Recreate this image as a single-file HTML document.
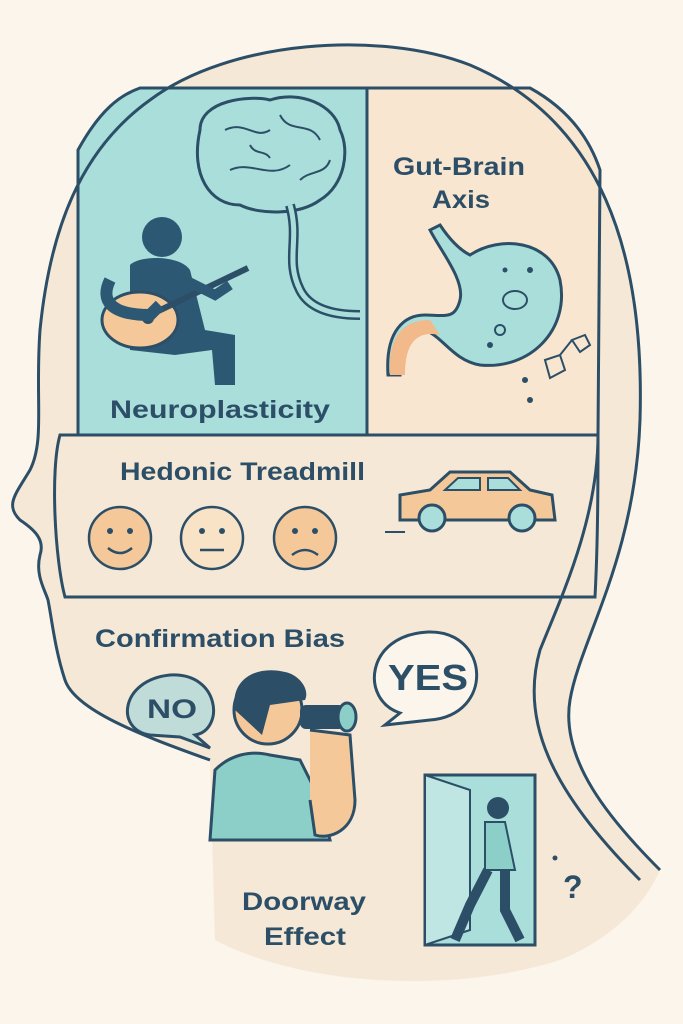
<!DOCTYPE html>
<html><head><meta charset="utf-8"><style>
html,body{margin:0;padding:0;background:#fbf5ec;}
svg{display:block;}
text{font-family:"Liberation Sans",sans-serif;fill:#2c4f67;font-weight:bold;}
</style></head><body>
<svg width="683" height="1024" viewBox="0 0 683 1024" xmlns="http://www.w3.org/2000/svg">
<defs>
<clipPath id="head">
<path d="M660,870 C610,820 560,760 570,700 C580,640 635,560 640,420 C645,250 600,120 470,65 C380,30 230,40 150,100 C80,150 50,230 40,330 C35,400 45,440 30,470 C15,495 5,505 20,520 C35,530 45,540 40,555 C35,575 45,590 48,600 C52,620 55,650 65,680 C75,710 140,735 210,760 L215,940 C300,985 450,995 560,960 C610,940 645,905 660,870 Z"/>
</clipPath>
</defs>
<rect width="683" height="1024" fill="#fbf5ec"/>
<g clip-path="url(#head)">
<rect width="683" height="1024" fill="#f6e8d6"/>
</g>
<!-- panels -->
<path d="M78,435 L78,150 C100,110 120,95 140,88 L367,88 L367,435 Z" fill="#a9dedb" stroke="#2c4f67" stroke-width="3"/>
<path d="M367,88 L530,88 C570,110 590,140 600,170 L598,435 L367,435 Z" fill="#f8e6d0" stroke="#2c4f67" stroke-width="3"/>
<path d="M60,435 L598,435 C598,480 598,540 595,597 L65,597 C55,560 50,470 60,435 Z" fill="#f6e8d6" stroke="#2c4f67" stroke-width="3"/>
<!-- head outlines -->
<path d="M660,870 C610,820 560,760 570,700 C580,640 635,560 640,420 C645,250 600,120 470,65 C380,30 230,40 150,100 C80,150 50,230 40,330 C35,400 45,440 30,470 C15,495 5,505 20,520 C35,530 45,540 40,555 C35,575 45,590 48,600 C52,620 55,650 65,680 C75,710 140,735 210,760" fill="none" stroke="#2c4f67" stroke-width="3"/>
<path d="M598,435 C598,520 560,600 540,650 C520,720 550,790 640,880" fill="none" stroke="#2c4f67" stroke-width="3"/>
<!-- brain -->
<path d="M200,130 C200,100 250,95 270,100 C300,90 335,105 340,130 C350,150 345,185 320,200 C300,215 260,215 240,205 C210,205 190,175 200,130 Z" fill="#a9dedb" stroke="#2c4f67" stroke-width="3"/>
<path d="M225,130 C245,120 255,140 270,130 M280,115 C290,135 310,120 320,140 M230,170 C250,160 270,180 290,165 M300,180 C310,170 325,175 330,160 M250,145 C255,155 265,150 270,158" fill="none" stroke="#2c4f67" stroke-width="2"/>
<path d="M290,205 C300,240 285,260 300,290 C310,310 335,315 360,315" fill="none" stroke="#2c4f67" stroke-width="10"/>
<path d="M290,205 C300,240 285,260 300,290 C310,310 335,315 360,315" fill="none" stroke="#a9dedb" stroke-width="5"/>
<!-- guitarist -->
<circle cx="162" cy="237" r="20" fill="#2d5873"/>
<path d="M130,265 C140,255 180,255 190,270 L205,330 L235,335 L235,385 L215,385 L212,350 L175,355 L130,350 Z" fill="#2d5873"/>
<ellipse cx="140" cy="320" rx="38" ry="28" fill="#f5c89a" stroke="#2c4f67" stroke-width="3"/>
<line x1="150" y1="315" x2="248" y2="268" stroke="#2c4f67" stroke-width="6"/>
<circle cx="148" cy="318" r="6" fill="#2c4f67"/>
<path d="M110,280 C100,300 110,315 150,315 L160,305" fill="none" stroke="#2d5873" stroke-width="12"/>
<path d="M185,280 L215,295 L230,285" fill="none" stroke="#2d5873" stroke-width="10"/>
<text x="110" y="418" font-size="25" textLength="220" lengthAdjust="spacingAndGlyphs">Neuroplasticity</text>
<!-- gut -->
<text x="393" y="175" font-size="25" textLength="132" lengthAdjust="spacingAndGlyphs">Gut-Brain</text>
<text x="432" y="208" font-size="25" textLength="58" lengthAdjust="spacingAndGlyphs">Axis</text>
<path d="M440,225 C450,240 460,250 470,255 C500,235 550,240 560,280 C570,330 530,370 480,365 C450,360 440,330 420,330 C405,330 400,350 400,375 L388,375 C385,330 405,315 425,315 C445,315 455,320 460,300 C465,280 440,250 430,230 Z" fill="#a9dedb" stroke="#2c4f67" stroke-width="3"/>
<path d="M390,375 C388,340 400,320 430,320 L440,335 C415,330 405,345 405,375 Z" fill="#f2b98a"/>
<ellipse cx="515" cy="300" rx="12" ry="9" fill="none" stroke="#2c4f67" stroke-width="2"/>
<circle cx="500" cy="330" r="5" fill="none" stroke="#2c4f67" stroke-width="2"/>
<circle cx="530" cy="270" r="3" fill="#2c4f67"/><circle cx="505" cy="270" r="2.5" fill="#2c4f67"/><circle cx="490" cy="345" r="3" fill="#2c4f67"/><circle cx="525" cy="380" r="3" fill="#2c4f67"/><circle cx="530" cy="400" r="3" fill="#2c4f67"/>
<path d="M545,360 L560,355 L565,370 L550,378 Z M560,355 L572,340 M572,340 L585,335 L590,345 L580,352 Z" fill="none" stroke="#2c4f67" stroke-width="2"/>
<!-- hedonic -->
<text x="120" y="480" font-size="25" textLength="245" lengthAdjust="spacingAndGlyphs">Hedonic Treadmill</text>
<g stroke="#2c4f67" stroke-width="2.5">
<circle cx="120" cy="538" r="31" fill="#f5c89a"/>
<circle cx="212" cy="538" r="31" fill="#f8e3c7"/>
<circle cx="305" cy="538" r="31" fill="#f5c89a"/>
<path d="M108,548 Q120,558 132,548 M200,550 L224,550 M292,555 Q305,545 318,555" fill="none"/>
</g>
<g fill="#2c4f67"><circle cx="110" cy="531" r="3"/><circle cx="130" cy="531" r="3"/><circle cx="202" cy="531" r="3"/><circle cx="222" cy="531" r="3"/><circle cx="295" cy="531" r="3"/><circle cx="315" cy="531" r="3"/></g>
<path d="M400,520 L400,495 L430,490 L450,472 L510,472 L530,490 L552,495 L555,520 Z" fill="#f5c89a" stroke="#2c4f67" stroke-width="3"/>
<path d="M445,490 L458,478 L480,478 L480,490 Z M488,478 L508,478 L520,490 L488,490 Z" fill="#a9dedb" stroke="#2c4f67" stroke-width="2"/>
<circle cx="432" cy="518" r="13" fill="#a9dedb" stroke="#2c4f67" stroke-width="3"/>
<circle cx="522" cy="518" r="13" fill="#a9dedb" stroke="#2c4f67" stroke-width="3"/>
<line x1="385" y1="532" x2="405" y2="532" stroke="#2c4f67" stroke-width="2"/>
<!-- confirmation -->
<text x="95" y="647" font-size="25" textLength="250" lengthAdjust="spacingAndGlyphs">Confirmation Bias</text>
<path d="M150,735 C115,730 120,680 170,675 C220,672 225,730 195,735 L210,748 L180,737 Z" fill="#bfdcd9" stroke="#2c4f67" stroke-width="3"/>
<text x="147" y="718" font-size="27" textLength="50" lengthAdjust="spacingAndGlyphs">NO</text>
<path d="M400,713 C360,700 365,635 428,632 C490,630 495,715 430,720 L385,725 Z" fill="#fbf5ec" stroke="#2c4f67" stroke-width="3"/>
<text x="388" y="690" font-size="36" textLength="80" lengthAdjust="spacingAndGlyphs">YES</text>
<!-- man -->
<path d="M210,840 L215,770 C230,755 250,750 270,755 L300,760 L320,800 L330,840 Z" fill="#8ccfc9" stroke="#2c4f67" stroke-width="3"/>
<circle cx="268" cy="710" r="34" fill="#f5c89a" stroke="#2c4f67" stroke-width="3"/>
<path d="M235,710 C230,680 255,665 285,672 C300,675 310,690 305,700 L270,705 L262,735 Z" fill="#2c4f67"/>
<path d="M310,730 L350,735 L355,800 C355,830 330,840 315,835 L310,800" fill="#f5c89a" stroke="#2c4f67" stroke-width="3"/>
<rect x="300" y="705" width="45" height="24" rx="6" fill="#2c4f67"/>
<ellipse cx="347" cy="717" rx="9" ry="14" fill="#8ccfc9" stroke="#2c4f67" stroke-width="3"/>
<!-- doorway -->
<text x="242" y="910" font-size="25" textLength="124" lengthAdjust="spacingAndGlyphs">Doorway</text>
<text x="264" y="945" font-size="25" textLength="82" lengthAdjust="spacingAndGlyphs">Effect</text>
<rect x="425" y="775" width="110" height="170" fill="#a9dedb" stroke="#2c4f67" stroke-width="3"/>
<path d="M425,775 L470,790 L470,930 L425,945 Z" fill="#bfe6e2" stroke="#2c4f67" stroke-width="2"/>
<circle cx="498" cy="808" r="11" fill="#2c4f67"/>
<path d="M485,822 L505,822 L515,870 L485,870 Z" fill="#8ccfc9" stroke="#2c4f67" stroke-width="2"/>
<path d="M488,870 L470,905 L455,940 M505,870 L505,910 L520,940" fill="none" stroke="#2c4f67" stroke-width="10"/>
<text x="563" y="898" font-size="32" font-weight="normal">?</text>
<circle cx="555" cy="858" r="2.5" fill="#2c4f67"/>
</svg>
</body></html>
